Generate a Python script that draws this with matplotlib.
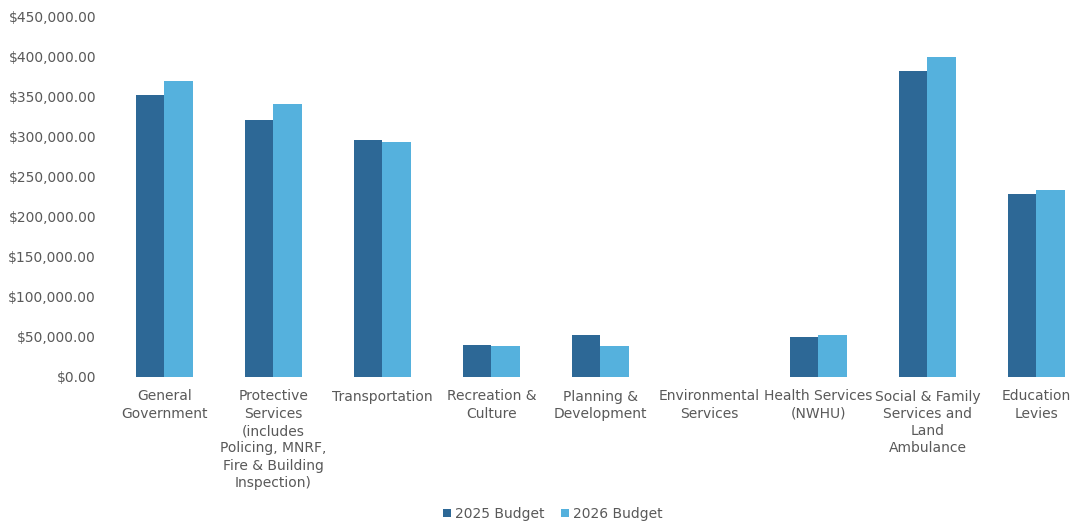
import matplotlib.pyplot as plt
import numpy as np
from matplotlib.ticker import FuncFormatter

categories = ['General\nGovernment',
              'Protective\nServices\n(includes\nPolicing, MNRF,\nFire & Building\nInspection)',
              'Transportation',
              'Recreation &\nCulture',
              'Planning &\nDevelopment',
              'Environmental\nServices',
              'Health Services\n(NWHU)',
              'Social & Family\nServices and\nLand\nAmbulance',
              'Education\nLevies']
budget2025 = [352500, 321500, 296500, 40000, 52500, 0, 50500, 382500, 229000]
budget2026 = [370000, 341500, 294000, 38500, 38500, 0, 52500, 400500, 234000]
seriesNames = ['2025 Budget', '2026 Budget']

colors = ['#2D6896', '#55B1DD']
textColor = '#595959'

plt.rcParams['font.family'] = 'DejaVu Sans'

fig = plt.figure(figsize=(10.73, 5.22), dpi=100)
ax = fig.add_axes([110 / 1073, 1 - 377 / 522, 1 - 110 / 1073, 360 / 522])

x = np.arange(len(categories))
w = 0.262
ax.bar(x - w / 2, budget2025, w, color=colors[0], label=seriesNames[0])
ax.bar(x + w / 2, budget2026, w, color=colors[1], label=seriesNames[1])

ax.set_xlim(-0.5, 8.335)
ax.set_ylim(0, 450000)
ax.set_yticks(np.arange(0, 450001, 50000))
ax.yaxis.set_major_formatter(FuncFormatter(lambda v, p: '${:,.2f}'.format(v)))
ax.set_xticks(x)
ax.set_xticklabels(categories, linespacing=1.3)

for s in ax.spines.values():
	s.set_visible(False)
ax.tick_params(axis='both', length=0, labelsize=10, labelcolor=textColor)
ax.tick_params(axis='x', pad=9)
ax.tick_params(axis='y', pad=10)

fig.legend(loc='center', bbox_to_anchor=(553 / 1073, 1 - 514 / 522), ncol=2, frameon=False,
           fontsize=10, labelcolor=textColor, handlelength=0.55, handleheight=0.55,
           handletextpad=0.3, columnspacing=1.2)

fig.savefig('out.png', dpi=100)
